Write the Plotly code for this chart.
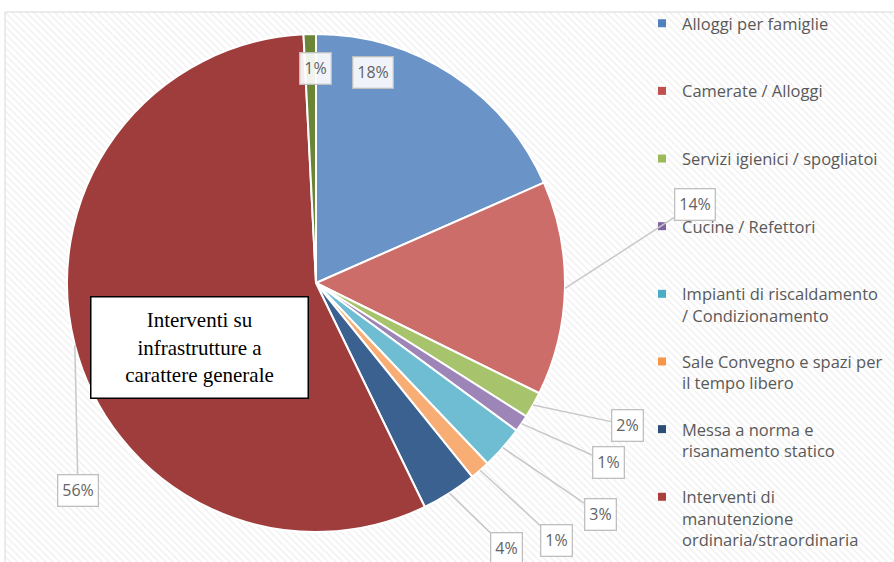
import math
import plotly.graph_objects as go

W, H = 894, 562

# ---- data ----
categories = [
    "Alloggi per famiglie",
    "Camerate / Alloggi",
    "Servizi igienici / spogliatoi",
    "Cucine / Refettori",
    "Impianti di riscaldamento / Condizionamento",
    "Sale Convegno e spazi per il tempo libero",
    "Messa a norma e risanamento statico",
    "Interventi di manutenzione ordinaria/straordinaria",
    "Altro",
]
values = [18.4, 13.9, 1.7, 1.1, 2.8, 1.3, 3.6, 56.4, 0.8]
legend_labels = [
    "Alloggi per famiglie",
    "Camerate / Alloggi",
    "Servizi igienici / spogliatoi",
    "Cucine / Refettori",
    "Impianti di riscaldamento<br>/ Condizionamento",
    "Sale Convegno e spazi per<br>il tempo libero",
    "Messa a norma e<br>risanamento statico",
    "Interventi di<br>manutenzione<br>ordinaria/straordinaria",
]
colors = ["#6a93c8", "#cd6d6a", "#a7c46c", "#9d85b7", "#6ebdd2",
          "#f8ad74", "#3b6191", "#9e3d3b", "#6b8537"]
legend_colors = ["#4f81bd", "#c0504d", "#9bbb59", "#8064a2", "#4bacc6",
                 "#f79646", "#2c4d75", "#a9403e"]

# ---- layout (pixel) ----
CX, CY, R = 316, 283, 249
# label centres (px) and whether a leader line is drawn
label_pos = [(373, 72), (695, 204), (627, 425), (608, 462), (600, 514),
             (556, 540), (506, 548), (78, 490), (315, 68)]
label_leader = [False, True, True, True, True, True, True, True, False]

fig = go.Figure()

# hatched chart-area background
fig.add_trace(go.Scatter(
    x=[5, W + 5, W + 5, 5, 5], y=[12, 12, H + 5, H + 5, 12],
    mode="lines", fill="toself",
    line=dict(color="#d9d9d9", width=1),
    fillcolor="white",
    fillpattern=dict(shape="\\", fgcolor="#e4e4e4", bgcolor="white",
                     size=5, solidity=0.3),
    hoverinfo="skip", showlegend=False))

# legend entries (8 visible categories)
for i, name in enumerate(legend_labels):
    nlines = name.count("<br>") + 1
    padded = name + "<br> " * (3 - nlines)
    fig.add_trace(go.Scatter(
        x=[None], y=[None], mode="markers", name=padded,
        marker=dict(symbol="square", size=8, color=legend_colors[i]),
        legendgroup=str(i), showlegend=True))

fig.add_trace(go.Pie(
    labels=categories, values=values, sort=False, direction="clockwise",
    rotation=0, textinfo="none", showlegend=False,
    marker=dict(colors=colors, line=dict(color="white", width=2)),
    domain=dict(x=[(CX - R) / W, (CX + R) / W],
                y=[(H - CY - R) / H, (H - CY + R) / H]),
    hoverinfo="label+percent"))

# data labels
total = sum(values)
annotations = []
cum = 0.0
for i, v in enumerate(values):
    mid = (cum + v / 2) / total * 2 * math.pi
    cum += v
    hx = CX + R * math.sin(mid)
    hy = CY - R * math.cos(mid)
    txt = f"{round(v / total * 100)}%"
    lx, ly = label_pos[i]
    common = dict(text=txt, font=dict(family="Open Sans", size=16, color="#636363"),
                  bgcolor="rgba(255,255,255,0.9)", bordercolor="#bfbfbf",
                  borderwidth=1.3, borderpad=4)
    if label_leader[i]:
        annotations.append(dict(
            x=hx, y=hy, xref="x", yref="y", ax=lx, ay=ly, axref="x", ayref="y",
            showarrow=True, arrowhead=0, arrowwidth=1.5, arrowcolor="#c8c8c8",
            **common))
    else:
        annotations.append(dict(x=lx, y=ly, xref="x", yref="y",
                                showarrow=False, **common))

annotations.append(dict(
    x=199, y=347, xref="x", yref="y", showarrow=False,
    text="Interventi su<br>infrastrutture a<br>carattere generale",
    font=dict(family="Liberation Serif", size=21, color="black"),
    bgcolor="white", bordercolor="black", borderwidth=1.5,
    width=214, height=98, align="center"))

fig.update_layout(
    width=W, height=H,
    margin=dict(l=0, r=0, t=0, b=0),
    paper_bgcolor="white", plot_bgcolor="white",
    xaxis=dict(range=[0, W], visible=False, domain=[0, 1], fixedrange=True),
    yaxis=dict(range=[H, 0], visible=False, domain=[0, 1], fixedrange=True),
    annotations=annotations,
    legend=dict(x=642 / W, xanchor="left", y=1 - 6 / H, yanchor="top",
                font=dict(family="Open Sans", size=16.5, color="#595959"),
                valign="top", tracegroupgap=0.3, bgcolor="rgba(0,0,0,0)",
                traceorder="grouped"),
    showlegend=True,
)

fig.write_html("out.html",
               config={"displayModeBar": False},
               post_script="document.body.style.margin='0';")
